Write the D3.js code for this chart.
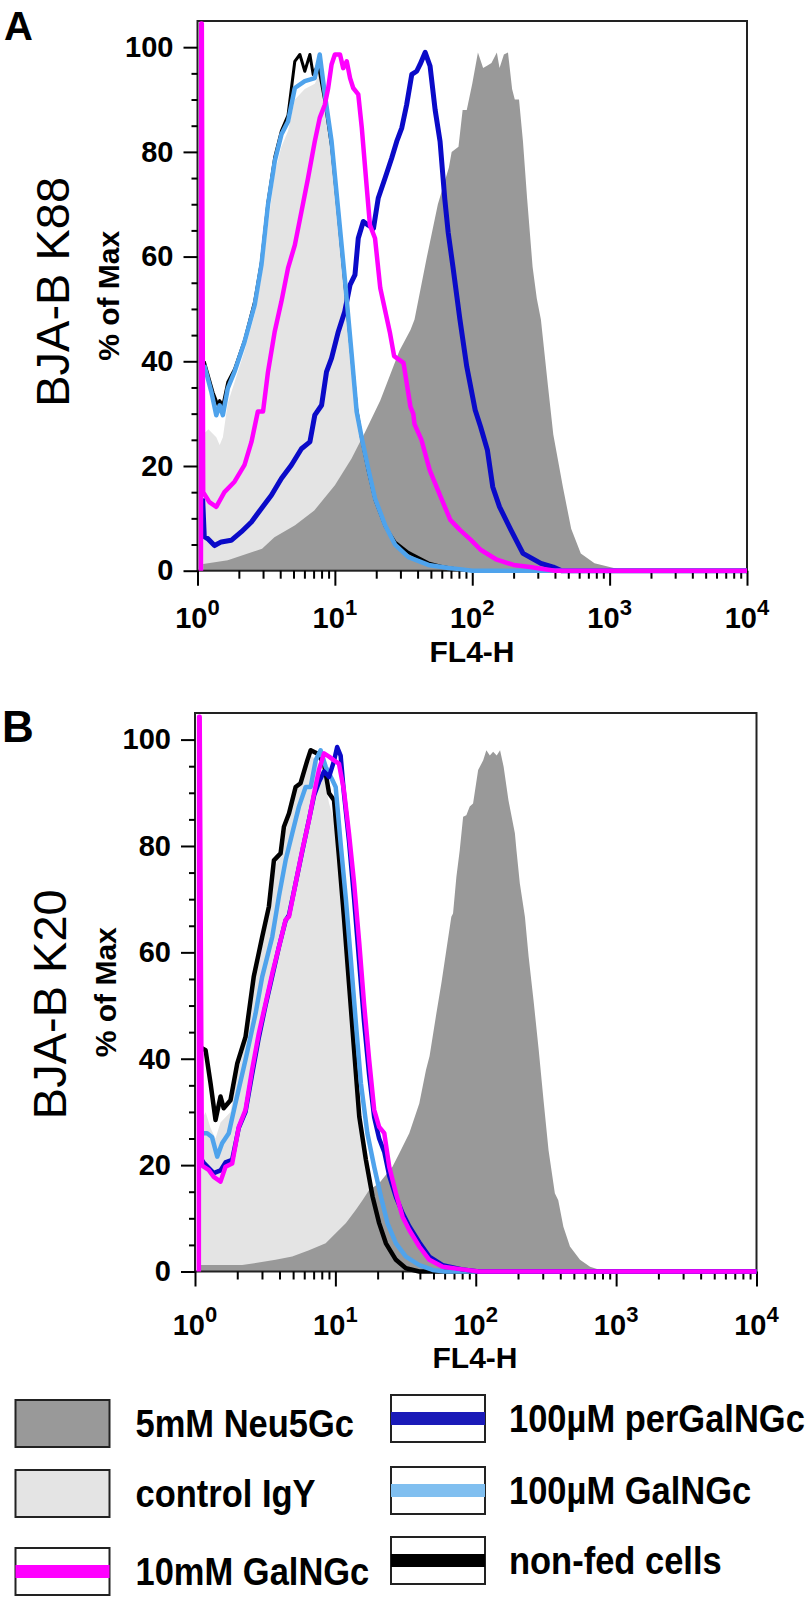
<!DOCTYPE html>
<html>
<head>
<meta charset="utf-8">
<script src="https://cdn.jsdelivr.net/npm/d3@7"></script>
<style>
  body { margin: 0; background: #fff; }
  svg { display: block; font-family: "Liberation Sans", Arial, sans-serif; }
</style>
</head>
<body>
<div id="chart"></div>
<script>
// histogram values, as [FL4-H, % of Max]
var neu5gcA = [[1.1,0],[1.1,1.3],[1.66,2],[2.95,4.2],[3.63,6.4],[5.13,8.7],[7.08,11.5],[10,16.3],[13.2,21.4],[16.6,26.5],[21.4,32.5],[29.5,42],[35.5,46],[38,48],[46.8,60],[56.2,70],[67.6,77],[70.8,80],[79.4,81],[85.1,88],[91.2,88],[100,93],[110,99],[120,96],[129,96.5],[138,97],[151,99],[158,96],[170,98.6],[182,99],[195,92],[204,90],[219,90],[234,82],[251,71],[275,58],[295,52],[316,48],[355,35.5],[389,26],[457,16],[525,8],[617,3.3],[776,1.4],[1072,0.5],[1259,0]];
var igyA = [[1.1,0],[1.1,26],[1.2,27],[1.37,25.5],[1.45,24],[1.53,25.5],[1.66,32],[1.86,36],[2.2,42],[2.61,49],[2.92,56],[3.26,66],[3.65,76],[4.08,81],[4.56,84],[5.11,90],[6.04,92],[7.14,93],[7.76,95],[8.45,89],[9.46,80],[10.6,67],[11.8,54],[13.2,40],[14.4,30],[15.7,24],[17.5,18.5],[19.6,13],[23.2,8],[27.4,4.5],[34.3,2.3],[48,1],[70,0.3],[100,0]];
var nonfedA = [[1.12,40],[1.3,34],[1.41,31.6],[1.45,32.5],[1.53,31.6],[1.66,36],[1.86,38.5],[2.2,44],[2.61,51.5],[2.92,59],[3.26,70.5],[3.65,79],[4.08,84],[4.56,87],[5.11,97.3],[5.56,98.6],[6.04,95.4],[6.58,98.6],[6.95,94.8],[7.55,96.7],[8.45,89.7],[9.46,81],[10.6,68],[11.8,55],[13.2,41.5],[14.4,31],[15.7,25],[17.5,19],[19.6,13.5],[23.2,8.5],[27.4,5.5],[34.3,3.5],[48,1.5],[60,0.8],[80,0.3],[100,0],[10000,0]];
var galngcA = [[1.12,39.3],[1.26,34.2],[1.37,29.7],[1.45,31.6],[1.53,29.7],[1.66,34.8],[1.86,38],[2.2,43.7],[2.61,50.8],[2.92,58.4],[3.26,69.9],[3.65,78.2],[4.08,83.3],[4.56,85.8],[5.11,92.2],[6.04,93.5],[7.14,94.1],[7.76,98.6],[8.45,91],[9.46,82],[10.6,68.6],[11.8,55.9],[13.2,41.8],[14.4,30.4],[15.7,25.3],[17.5,19.5],[19.6,13.8],[23.2,8.7],[27.4,5],[34.3,2.6],[48,1.1],[67.1,0.5],[81,0.3],[100,0],[10000,0]];
var perA = [[1.09,13.8],[1.12,6.5],[1.19,6.1],[1.33,4.8],[1.49,5.5],[1.76,5.8],[2.08,7.4],[2.47,9.3],[2.92,11.9],[3.45,14.4],[4.08,17.6],[4.83,20.2],[5.71,23.3],[6.58,24.6],[7.14,29.7],[8,31.6],[8.69,38],[9.46,40.6],[10.6,45.7],[11.8,49.5],[12.9,54.6],[14,56.5],[14.8,63.5],[16.1,66.7],[17.5,66],[19.1,65.4],[20.7,71.2],[23.2,75],[25.9,78.8],[28.2,82],[30.7,84.6],[33.3,89],[36.3,94.8],[39.4,95.4],[41.7,96.7],[45.4,99],[49.3,96.4],[53.7,88],[58.3,82],[63.1,71],[66.8,64.6],[72.4,58],[81.3,48],[91.2,39],[105,30.7],[115,27.5],[129,23],[141,16],[158,12.2],[191,7.8],[234,3.3],[316,1.4],[389,0.7],[447,0],[10000,0]];
var tenmMA = [[1.06,0],[1.065,104.5],[1.075,104.5],[1.1,15],[1.22,13.1],[1.37,12.2],[1.57,15],[1.86,17],[2.2,20.2],[2.47,24.6],[2.75,30.4],[3,30.4],[3.26,38],[3.65,45.7],[4.08,51.4],[4.56,57.8],[5.11,62.2],[5.71,68.6],[6.38,75],[7.14,82],[7.76,86.5],[8.45,89],[8.94,92.2],[9.46,96.7],[10,98.6],[10.9,98.6],[11.5,96],[12.2,97.3],[12.9,94.1],[13.6,92.2],[14.8,91],[15.7,84.6],[17,73.7],[18,66],[19.6,63.5],[21.4,54],[25.1,45.6],[27,41],[31.6,39.7],[35.5,31.3],[37.2,30],[38,28],[42.7,25],[49,19.2],[58.9,14.1],[69.2,9.7],[81.3,7.8],[97.7,5.9],[115,4],[151,2.1],[200,1.1],[263,0.7],[400,0],[10000,0]];

var neu5gcB = [[1.1,0],[1.1,1.2],[2.17,1.2],[3.75,2.2],[4.93,2.8],[6.49,4],[8.53,5.3],[10.05,7.2],[11.9,9.1],[14,11.6],[15.6,13.4],[17.4,15.3],[20.5,16.6],[25.5,19.7],[28.5,22.2],[33.6,26],[39.6,31.6],[44.2,37.9],[46.9,40.5],[52.4,48.5],[56.9,54.2],[61.7,60.4],[67,66.7],[68.9,67.3],[72.8,74.2],[76.9,79.2],[81.3,85.5],[85.7,85.8],[90.6,87.4],[95.7,88],[104,94.3],[113,96.1],[119,98],[126,97],[133,97.7],[141,97],[149,98],[158,94.9],[171,88.6],[190,82.4],[195,79.2],[206,73],[224,66.7],[238,59.2],[258,51],[281,41.6],[304,32.2],[330,22.8],[366,14.7],[387,13.4],[421,8.4],[469,4.7],[553,2.2],[652,0.9],[769,0.3],[900,0]];
var igyB = [[1.1,0],[1.1,28],[1.19,30],[1.29,27],[1.4,25],[1.52,28],[1.79,30],[2,37],[2.29,43],[2.62,54],[3.01,61],[3.36,67],[3.65,75],[4.3,82],[4.67,85],[5.21,90],[5.65,93],[6.31,95],[6.67,97],[7.43,96],[8.3,93],[9.02,88],[9.78,85],[10.6,75],[11.5,63],[12.5,51],[13.6,39],[14.8,27],[16.5,19],[18.4,12.5],[20.5,8],[22.9,4.5],[27,2],[31.8,0.5],[40,0]];
var nonfedB = [[1.12,42],[1.19,41.6],[1.29,35.4],[1.4,28.5],[1.52,32.9],[1.6,30.7],[1.79,32.2],[2,39.1],[2.29,44.1],[2.62,55.4],[3.01,62.9],[3.36,68.6],[3.65,77.3],[4.07,78.6],[4.3,83.6],[4.67,86.1],[5.21,91.1],[5.65,91.8],[6.31,96.1],[6.67,98],[7.43,97.4],[8.3,95.5],[9.02,89.9],[9.78,88.6],[10.6,78],[11.5,66.7],[12.5,54.2],[13.6,41.6],[14.8,29.1],[16.5,21],[18.4,14.1],[20.5,9.1],[22.9,5.3],[27,2.2],[31.8,0.6],[39.6,0],[10000,0]];
var galngcB = [[1.12,26],[1.22,26],[1.32,25.3],[1.44,21.6],[1.56,24.1],[1.74,26],[1.94,31.6],[2.29,39.8],[2.7,48.5],[3.01,55.4],[3.55,62.9],[3.96,70.5],[4.42,77.3],[4.93,82.4],[5.5,87.4],[6.14,91.1],[6.67,91.1],[7.24,96.1],[7.85,98],[8.53,94.9],[9.52,92.4],[10.05,91.1],[10.9,80.5],[11.9,69.8],[12.9,58.5],[14,46.7],[15.2,35.4],[16.9,26],[18.9,19.7],[21.1,14.1],[23.5,9.1],[27,5.3],[31.8,2.8],[39.6,1.2],[49.3,0.3],[60,0],[10000,0]];
var perB = [[1.12,21],[1.15,20.5],[1.25,19.5],[1.36,18.5],[1.52,19],[1.65,20.5],[1.84,21],[2.05,27],[2.29,30],[2.55,37],[2.85,44],[3.18,50],[3.55,55.5],[3.96,61],[4.42,66],[4.67,67],[5.21,73],[5.81,79],[6.49,85],[7.05,89.5],[7.64,92],[8.3,94],[9.02,93],[9.78,96],[10.3,98.6],[10.9,97],[11.5,90],[12.5,81],[13.6,70],[14.8,58],[16,47],[17.4,37],[18.9,29],[20.5,25],[22.3,22.5],[24.2,18],[27,14],[30.1,11],[33.6,8.5],[39.6,5.5],[46.7,2.8],[58.1,1.2],[80,0.4],[105,0],[10000,0]];
var tenmMB = [[1.065,0],[1.07,104.3],[1.08,104.3],[1.12,20],[1.15,19.7],[1.25,19.1],[1.36,17.8],[1.52,16.9],[1.65,19.7],[1.84,20.3],[2.05,27.2],[2.29,30.4],[2.55,37.9],[2.85,44.8],[3.18,50.4],[3.55,56],[3.96,61],[4.42,66.1],[4.67,66.7],[5.21,73],[5.81,79.2],[6.49,84.9],[7.05,89.9],[7.64,94.3],[8.3,97.4],[9.02,96.8],[9.78,96.1],[10.6,95.5],[11.5,90.5],[12.5,82.4],[13.6,73],[14.8,61.7],[16,50.4],[17.4,39.8],[18.9,30.4],[20.5,27.2],[22.3,26],[24.2,19.7],[27,14.7],[30.1,10.3],[33.6,7.8],[39.6,4.7],[46.7,2.2],[58.1,0.9],[80,0.4],[105,0],[10000,0]];

var yTicks = [0, 20, 40, 60, 80, 100];
var xDecades = [1, 10, 100, 1000, 10000];
var xSup = ["0", "1", "2", "3", "4"];
var legendLabels = ["5mM Neu5Gc", "control IgY", "10mM GalNGc", "100µM perGalNGc", "100µM GalNGc", "non-fed cells"];

var col = {
  dark: "#999999", light: "#e4e4e4", magenta: "#ff00ff",
  blue: "#0a0ac8", lblue: "#4fa3ec", black: "#000000"
};

var svg = d3.select("#chart").append("svg")
  .attr("width", 810)
  .attr("height", 1598);

function drawPanel(p) {
  var x = d3.scaleLog().domain([1, 10000]).range([p.left, p.right]);
  var y = d3.scaleLinear().domain([0, 105]).range([p.bottom, p.top]);
  var g = svg.append("g");

  var area = d3.area().x(d => x(d[0])).y0(y(0)).y1(d => y(d[1]));
  var line = d3.line().x(d => x(d[0])).y(d => y(d[1]));

  g.append("path").datum(p.igy).attr("d", area).attr("fill", col.light);
  g.append("path").datum(p.neu).attr("d", area).attr("fill", col.dark);

  // frame
  g.append("rect")
    .attr("x", p.left).attr("y", p.top)
    .attr("width", p.right - p.left).attr("height", p.bottom - p.top)
    .attr("fill", "none").attr("stroke", "#222").attr("stroke-width", 2);

  // y axis, major + minor
  var yMinor = d3.range(0, 101, 5).filter(v => v % 20 != 0);
  g.append("g").attr("transform", `translate(${p.left},0)`)
    .call(d3.axisLeft(y).tickValues(yMinor).tickSize(6).tickFormat(""))
    .call(a => a.select(".domain").remove());
  g.append("g").attr("transform", `translate(${p.left},0)`)
    .call(d3.axisLeft(y).tickValues(yTicks).tickSize(14).tickPadding(10))
    .call(a => a.select(".domain").remove())
    .selectAll("text")
    .attr("font-size", 29).attr("font-weight", "bold")
    .attr("font-family", "Liberation Sans, Arial, sans-serif");

  // x axis, major + minor
  var xMinor = x.ticks().filter(v => xDecades.indexOf(v) < 0);
  g.append("g").attr("transform", `translate(0,${p.bottom})`)
    .call(d3.axisBottom(x).tickValues(xMinor).tickSize(8).tickFormat(""))
    .call(a => a.select(".domain").remove());
  g.append("g").attr("transform", `translate(0,${p.bottom})`)
    .call(d3.axisBottom(x).tickValues(xDecades).tickSize(15).tickFormat(""))
    .call(a => a.select(".domain").remove());
  g.selectAll(".tick line").attr("stroke-width", 2);

  var lab = g.selectAll(".xlab").data(xDecades).enter().append("text")
    .attr("class", "xlab")
    .attr("x", d => x(d))
    .attr("y", p.bottom + p.labGap)
    .attr("text-anchor", "middle")
    .attr("font-size", 29)
    .attr("font-weight", "bold");
  lab.append("tspan").text("10");
  lab.append("tspan").attr("dy", -13).attr("font-size", 22).text((d, i) => xSup[i]);

  g.append("text")
    .attr("x", p.titleX).attr("y", p.bottom + p.titleGap)
    .attr("text-anchor", "middle")
    .attr("font-size", 30).attr("font-weight", "bold")
    .text("FL4-H");

  // histogram lines
  p.lines.forEach(function(s) {
    g.append("path").datum(s.data).attr("d", line)
      .attr("fill", "none").attr("stroke", s.color)
      .attr("stroke-width", s.width)
      .attr("stroke-linejoin", "round");
  });

  // side labels
  var mid = (p.top + p.bottom) / 2;
  g.append("text")
    .attr("transform", `translate(${p.left - 79},${mid}) rotate(-90)`)
    .attr("text-anchor", "middle")
    .attr("font-size", 30).attr("font-weight", "bold")
    .text("% of Max");
  g.append("text")
    .attr("transform", `translate(${p.left - 129},${mid + p.nameShift}) rotate(-90)`)
    .attr("text-anchor", "middle")
    .attr("font-size", 47)
    .text(p.name);
  g.append("text")
    .attr("x", p.letterX).attr("y", p.letterY)
    .attr("font-size", p.letterSize).attr("font-weight", "bold")
    .text(p.letter);
}

drawPanel({
  left: 197.5, right: 747, top: 21, bottom: 570.7,
  labGap: 57, titleGap: 91, titleX: 472,
  neu: neu5gcA, igy: igyA,
  lines: [
    {data: perA, color: col.blue, width: 5},
    {data: nonfedA, color: col.black, width: 3},
    {data: galngcA, color: col.lblue, width: 4.5},
    {data: tenmMA, color: col.magenta, width: 4.5}
  ],
  name: "BJA-B K88", nameShift: -4,
  letter: "A", letterX: 4, letterY: 40, letterSize: 40
});

drawPanel({
  left: 195, right: 756.5, top: 713, bottom: 1271.5,
  labGap: 63, titleGap: 96, titleX: 475,
  neu: neu5gcB, igy: igyB,
  lines: [
    {data: nonfedB, color: col.black, width: 4.5},
    {data: galngcB, color: col.lblue, width: 4.5},
    {data: perB, color: col.blue, width: 4.5},
    {data: tenmMB, color: col.magenta, width: 4.5}
  ],
  name: "BJA-B K20", nameShift: 12,
  letter: "B", letterX: 2, letterY: 742, letterSize: 44
});

// legend
var legendRows = [
  {x: 15.5, y: 1400, kind: "fill", color: col.dark},
  {x: 15.5, y: 1470, kind: "fill", color: col.light},
  {x: 15.5, y: 1548, kind: "line", color: col.magenta},
  {x: 391, y: 1395, kind: "line", color: "#1a1ab8"},
  {x: 391, y: 1467, kind: "line", color: "#80bff0"},
  {x: 391, y: 1537, kind: "line", color: col.black}
];
var leg = svg.append("g");
legendRows.forEach(function(r, i) {
  leg.append("rect")
    .attr("x", r.x).attr("y", r.y).attr("width", 94).attr("height", 47)
    .attr("fill", r.kind == "fill" ? r.color : "#fff")
    .attr("stroke", "#222").attr("stroke-width", 2);
  if (r.kind == "line") {
    leg.append("rect")
      .attr("x", r.x).attr("y", r.y + 17).attr("width", 94).attr("height", 13)
      .attr("fill", r.color);
  }
  leg.append("text")
    .attr("transform", `translate(${r.x + (i < 3 ? 120 : 118)},${r.y + 37}) scale(1,1.15)`)
    .attr("font-size", 34.5).attr("font-weight", "bold")
    .text(legendLabels[i]);
});
</script>
</body>
</html>
